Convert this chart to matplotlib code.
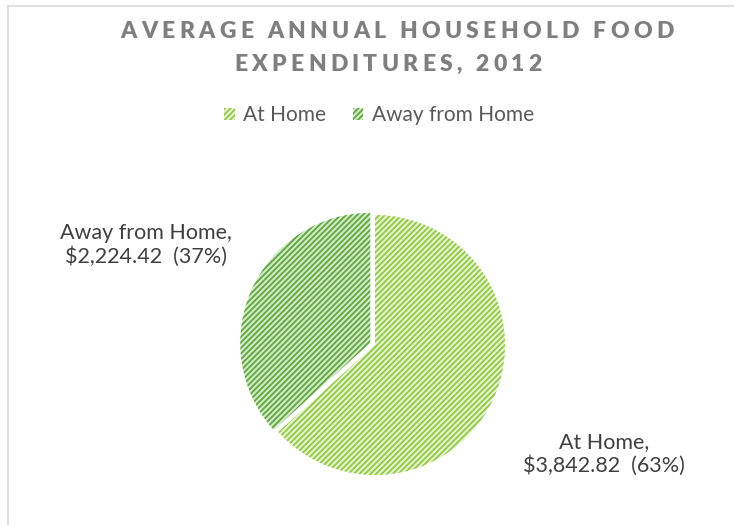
import matplotlib
matplotlib.use("Agg")
import matplotlib.pyplot as plt
import matplotlib.patches as mpatches
from matplotlib.lines import Line2D

# data
categories = ["At Home", "Away from Home"]
values = [3842.82, 2224.42]
title_lines = ["AVERAGE ANNUAL HOUSEHOLD FOOD", "EXPENDITURES, 2012"]

stripe_colors = ["#8fcb3b", "#5ea83a"]
back_colors = ["#e6f3d4", "#d3eac8"]
FONT = "Lato"

W, H = 734, 525
plt.rcParams["hatch.linewidth"] = 1.3
fig = plt.figure(figsize=(W / 100, H / 100), dpi=100)
fig.patch.set_facecolor("white")

# chart area border (only top and left edges are inside the picture)
fig.add_artist(Line2D([8 / W, 1.01], [1 - 6 / H, 1 - 6 / H], transform=fig.transFigure,
                      color="#d9d9d9", lw=1.2))
fig.add_artist(Line2D([8 / W, 8 / W], [1 - 6 / H, -0.01], transform=fig.transFigure,
                      color="#d9d9d9", lw=1.2))


def spaced_text(s, xc, yc, size, gap_px, color, weight="bold"):
    # draw a line of text with extra letter spacing, centred on (xc, yc) in pixels
    r = fig.canvas.get_renderer()

    def width(t):
        tt = fig.text(0, 0, t, fontsize=size, weight=weight, family=FONT)
        w = tt.get_window_extent(renderer=r).width
        tt.remove()
        return w

    base = width("II")
    adv = [width("I" + ch + "I") - base for ch in s]
    total = sum(adv) + gap_px * (len(s) - 1)
    x = xc - total / 2
    for ch, a in zip(s, adv):
        if ch != " ":
            fig.text(x / W, 1 - yc / H, ch, fontsize=size, weight=weight, family=FONT,
                     color=color, ha="left", va="center")
        x += a + gap_px


spaced_text(title_lines[0], 397, 31, 16.5, 4.3, "#7f7f7f", weight="heavy")
spaced_text(title_lines[1], 388, 64, 16.5, 4.3, "#7f7f7f", weight="heavy")

# pie
cx, cy, rad = 375, 345, 130
ax = fig.add_axes([(cx - rad) / W, (H - cy - rad) / H, 2 * rad / W, 2 * rad / H])
wedges, _ = ax.pie(values, startangle=90, counterclock=False, explode=(0, 0.04),
                   colors=back_colors, wedgeprops=dict(linewidth=0))
for w, sc in zip(wedges, stripe_colors):
    w.set_edgecolor(sc)
    w.set_hatch("//////")
    w.set_linewidth(0)
ax.set_xlim(-1, 1)
ax.set_ylim(-1, 1)
ax.set_aspect("equal")
ax.axis("off")

# data labels
total = sum(values)
label_pos = [(604, 454), (146, 245)]
for cat, v, (lx, ly) in zip(categories, values, label_pos):
    fig.text(lx / W, 1 - ly / H, f"{cat},\n${v:,.2f}  ({v / total:.0%})", fontsize=15.5,
             family=FONT, color="#404040", ha="center", va="center", linespacing=1.2)

# legend
handles = [mpatches.Patch(facecolor=b, edgecolor=s, hatch="//////", linewidth=0)
           for b, s in zip(back_colors, stripe_colors)]
fig.legend(handles, categories, loc="center", bbox_to_anchor=(379 / W, 1 - 115 / H),
           ncol=2, frameon=False, handlelength=0.5, handleheight=0.5,
           handletextpad=0.4, columnspacing=1.3, labelcolor="#595959",
           prop={"family": FONT, "size": 15})

fig.savefig("out.png", dpi=100)
